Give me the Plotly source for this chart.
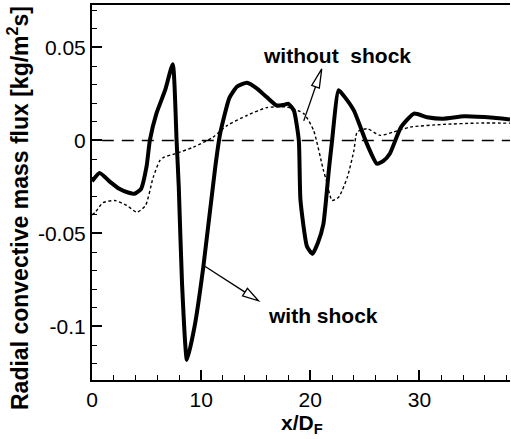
import plotly.graph_objects as go
import math

# with shock (solid)
x_with = [0.0, 0.7, 1.6, 2.5, 3.3, 3.9, 4.5, 5.0, 5.3, 5.9, 6.7, 7.4, 7.75, 7.95, 8.25, 8.7,
          9.4, 10.2, 11.3, 11.75, 12.6, 13.3, 14.2, 15.1, 16.0, 16.9, 17.5, 18.0, 18.5, 18.95,
          19.1, 19.7, 20.2, 20.7, 21.2, 21.7, 22.0, 22.6, 23.2, 24.0, 25.2, 26.1, 26.7, 27.3,
          28.3, 29.5, 30.7, 32.2, 34.1, 36.8, 38.3]
y_with = [-0.022, -0.0175, -0.022, -0.026, -0.028, -0.0287, -0.026, -0.014, 0.0, 0.0144, 0.027,
          0.041, 0.0, -0.025, -0.077, -0.118, -0.100, -0.068, -0.014, 0.004, 0.023, 0.029, 0.031,
          0.028, 0.0233, 0.0188, 0.019, 0.0197, 0.016, 0.0, -0.032, -0.057, -0.061, -0.055,
          -0.045, -0.016, 0.0, 0.027, 0.023, 0.016, -0.002, -0.0125, -0.011, -0.007, 0.007,
          0.0144, 0.0125, 0.0117, 0.013, 0.0122, 0.0113]

# without shock (dotted)
x_without = [0.0, 0.3, 1.0, 2.1, 3.2, 4.1, 4.9, 5.6, 6.2, 6.6, 7.6, 9.3, 11.1, 12.4, 14.2, 16.0,
             17.9, 19.4, 20.3, 21.2, 21.5, 22.0, 22.6, 23.4, 24.0, 24.3, 25.2, 26.4, 27.6, 29.2,
             32.2, 35.3, 38.3]
y_without = [-0.040, -0.0386, -0.0335, -0.0323, -0.035, -0.0386, -0.035, -0.020, -0.011, -0.009,
             -0.0072, -0.0036, 0.0018, 0.0081, 0.0134, 0.0176, 0.0179, 0.0144, 0.0054, -0.016,
             -0.022, -0.0323, -0.0305, -0.0197, -0.0054, 0.0045, 0.0063, 0.0027, 0.0045, 0.0072,
             0.0086, 0.0093, 0.0093]

x_range = [0, 38.3]
y_range = [-0.1288, 0.0728]
x_ticks = [0, 10, 20, 30]
y_ticks = [-0.1, -0.05, 0, 0.05]
y_ticklabels = ["-0.1", "-0.05", "0", "0.05"]

W, H = 511, 439
ML, MR, MT, MB = 92, 1, 5, 59
pw = W - ML - MR
ph = H - MT - MB
sx = pw / (x_range[1] - x_range[0])
sy = ph / (y_range[1] - y_range[0])

font = "Liberation Sans, Arial, Helvetica, sans-serif"

fig = go.Figure()
fig.add_trace(go.Scatter(x=[0.9, x_range[1]], y=[0, 0], mode="lines",
                         line=dict(color="black", width=1.5, dash="12px,8px"),
                         hoverinfo="skip", showlegend=False))
fig.add_trace(go.Scatter(x=x_without, y=y_without, mode="lines",
                         line=dict(color="black", width=1.4, dash="3px,2.5px", shape="spline", smoothing=0.6),
                         showlegend=False))
fig.add_trace(go.Scatter(x=x_with, y=y_with, mode="lines",
                         line=dict(color="black", width=4, shape="spline", smoothing=0.5),
                         showlegend=False))


def arrow(tail, tip, head_len, half_w):
    dxp = (tip[0] - tail[0]) * sx
    dyp = (tip[1] - tail[1]) * sy
    L = math.hypot(dxp, dyp)
    ux, uy = dxp / L, dyp / L
    bx = tip[0] - ux * head_len / sx
    by = tip[1] - uy * head_len / sy
    px_, py_ = -uy, ux
    b1 = (bx + px_ * half_w / sx, by + py_ * half_w / sy)
    b2 = (bx - px_ * half_w / sx, by - py_ * half_w / sy)
    fig.add_shape(type="line", x0=tail[0], y0=tail[1], x1=bx, y1=by,
                  line=dict(color="black", width=1.3), layer="above")
    path = f"M {tip[0]},{tip[1]} L {b1[0]},{b1[1]} L {b2[0]},{b2[1]} Z"
    fig.add_shape(type="path", path=path, fillcolor="white",
                  line=dict(color="black", width=1.3), layer="above")


arrow((19.4, 0.0105), (21.05, 0.0385), 19, 4)
arrow((10.3, -0.0675), (15.25, -0.0862), 16, 4.5)

fig.add_annotation(x=(337 - ML) / sx, y=y_range[1] - (55 - MT) / sy, text="<b>without  shock</b>",
                   showarrow=False, font=dict(family=font, size=21, color="black"))
fig.add_annotation(x=(323 - ML) / sx, y=y_range[1] - (315 - MT) / sy, text="<b>with shock</b>",
                   showarrow=False, font=dict(family=font, size=21, color="black"))

# axis titles as paper-positioned annotations
fig.add_annotation(xref="paper", yref="paper", x=(18 - ML) / pw, y=(H - MB - 208) / ph,
                   text="<b>Radial convective mass flux [kg/m<sup>2</sup>s]</b>", textangle=-90,
                   showarrow=False, xanchor="center", yanchor="middle",
                   font=dict(family=font, size=23, color="black"))
fig.add_annotation(xref="paper", yref="paper", x=(302 - ML) / pw, y=(H - MB - 424) / ph,
                   text="<b>x/D<sub>F</sub></b>", showarrow=False, xanchor="center", yanchor="middle",
                   font=dict(family=font, size=21, color="black"))

fig.update_xaxes(range=x_range, tickvals=x_ticks, ticks="inside", ticklen=10, tickwidth=1.5,
                 tickcolor="black", showline=True, linecolor="black", linewidth=2, mirror=True,
                 showgrid=False, zeroline=False, automargin=False,
                 minor=dict(dtick=2, ticks="inside", ticklen=5, tickcolor="black", tickwidth=1),
                 tickfont=dict(family=font, size=21, color="black"))
fig.update_yaxes(range=y_range, tickvals=y_ticks, ticktext=y_ticklabels, ticks="inside", ticklen=10,
                 tickwidth=1.5, tickcolor="black", showline=True, linecolor="black", linewidth=2,
                 showgrid=False, zeroline=False, automargin=False,
                 minor=dict(dtick=0.01, ticks="inside", ticklen=5, tickcolor="black", tickwidth=1),
                 tickfont=dict(family=font, size=21, color="black"))
fig.update_layout(width=W, height=H, margin=dict(l=ML, r=MR, t=MT, b=MB),
                  plot_bgcolor="white", paper_bgcolor="white")
fig.write_html("out.html", config={"displayModeBar": False},
               post_script="document.body.style.margin='0';")
